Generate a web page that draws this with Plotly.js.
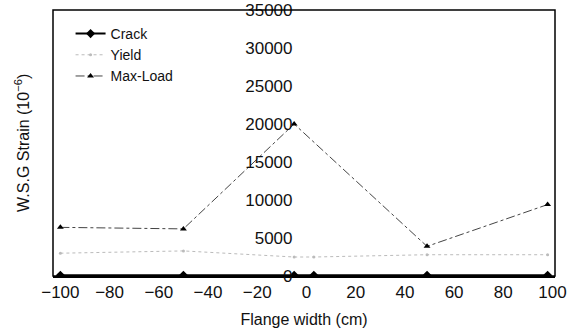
<!DOCTYPE html>
<html><head><meta charset="utf-8">
<script src="https://cdn.plot.ly/plotly-3.0.1.min.js"></script>
<style>html,body{margin:0;padding:0;background:#fff}#c{width:580px;height:334px}</style>
</head><body><div id="c"></div>
<script>
const flangeWidth = [-100, -50, -5, 3, 49, 98];
const crack = [100, 100, 100, 100, 100, 100];
const yieldStrain = [3000, 3300, 2500, 2500, 2800, 2800];
const maxLoad = [6400, 6200, 20000, null, 3900, 9400];
const yTicks = [0, 5000, 10000, 15000, 20000, 25000, 30000, 35000];
const xTicks = [-100, -80, -60, -40, -20, 0, 20, 40, 60, 80, 100];

const font = {family: 'Liberation Sans, Arial, sans-serif', color: '#111'};
const traces = [
  {x: flangeWidth, y: crack, name: 'Crack', mode: 'lines+markers',
   line: {color: '#000', width: 2}, marker: {symbol: 'diamond', size: 7, color: '#000'}},
  {x: flangeWidth, y: yieldStrain, name: 'Yield', mode: 'lines+markers',
   line: {color: '#bbb', width: 1, dash: 'dot'}, marker: {symbol: 'circle', size: 3, color: '#bbb'}},
  {x: flangeWidth, y: maxLoad, name: 'Max-Load', mode: 'lines+markers', connectgaps: true,
   line: {color: '#444', width: 1, dash: 'dashdot'}, marker: {symbol: 'triangle-up', size: 6, color: '#000'}}
];
const layout = {
  width: 580, height: 334,
  margin: {l: 53, r: 25, t: 10, b: 58},
  paper_bgcolor: '#fff', plot_bgcolor: '#fff',
  font: Object.assign({size: 15}, font),
  showlegend: true,
  legend: {x: 0.035, y: 0.97, xanchor: 'left', yanchor: 'top', bgcolor: 'rgba(0,0,0,0)',
           font: Object.assign({size: 14}, font), tracegroupgap: 0, itemwidth: 30},
  xaxis: {range: [-103, 101], tickvals: xTicks, ticktext: xTicks.map(v => v < 0 ? '\u2212' + (-v) : String(v)),
          showgrid: false, zeroline: false, showline: true, linecolor: '#000', linewidth: 2,
          ticks: '', tickfont: Object.assign({size: 17}, font),
          title: {text: 'Flange width (cm)', font: Object.assign({size: 16}, font), standoff: 12}},
  yaxis: {range: [0, 35000], tickvals: yTicks, tickformat: 'd', anchor: 'free', position: 0.505,
          showgrid: false, zeroline: false, showline: false, ticks: '',
          ticklabelstandoff: 14,
          tickfont: Object.assign({size: 17}, font)},
  shapes: [{type: 'rect', xref: 'paper', yref: 'paper', x0: 0, x1: 1, y0: 0, y1: 1,
            line: {color: '#000', width: 1.5}}],
  annotations: [{text: 'W.S.G Strain (10<sup>\u22126</sup>)', xref: 'paper', yref: 'paper',
                 x: -0.062, y: 0.5, xanchor: 'center', yanchor: 'middle', textangle: -90, showarrow: false,
                 font: Object.assign({size: 16}, font)}]
};
Plotly.newPlot('c', traces, layout, {displayModeBar: false, staticPlot: true});
</script></body></html>
